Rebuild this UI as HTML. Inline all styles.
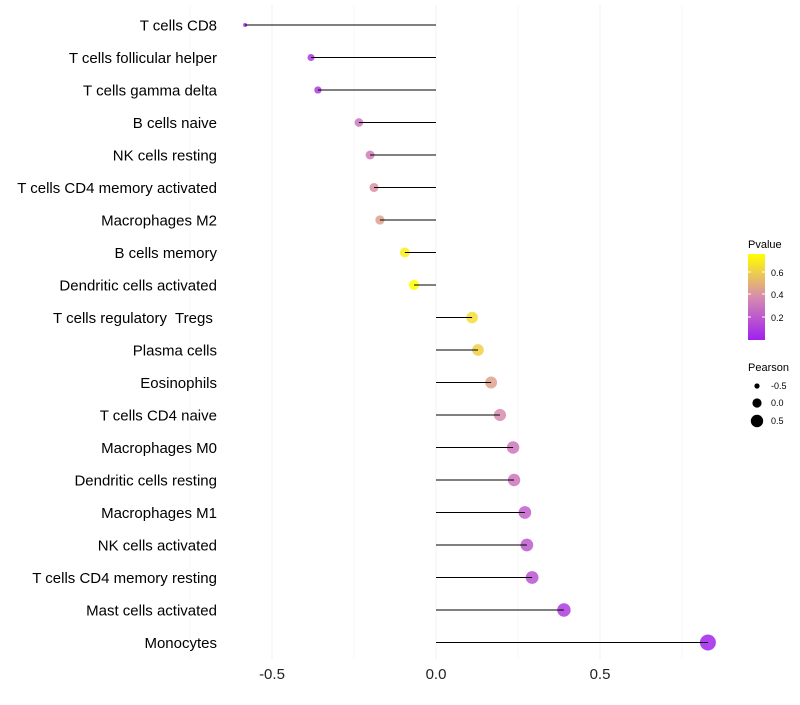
<!DOCTYPE html>
<html><head><meta charset="utf-8"><style>
body{margin:0;background:#fff;font-family:"Liberation Sans",sans-serif}
svg text{font-family:"Liberation Sans",sans-serif;white-space:pre}
</style></head><body>
<svg id="c" width="800" height="700">
<defs><linearGradient id="pg" x1="0" y1="1" x2="0" y2="0">
<stop offset="0" stop-color="#A020F0"/><stop offset="0.5" stop-color="#D68CAE"/><stop offset="1" stop-color="#FFFF00"/></linearGradient></defs>
<g id="grid"></g>
<g id="pts"></g>
<g id="marks"></g>
<g id="labels"></g>
<g id="xt"></g>
<g>
<text x="748" y="248" font-size="11">Pvalue</text>
<rect x="748" y="254" width="17" height="86" fill="url(#pg)"/>
<line x1="748" x2="751" y1="272" y2="272" stroke="#fff"/><line x1="762" x2="765" y1="272" y2="272" stroke="#fff"/>
<line x1="748" x2="751" y1="294" y2="294" stroke="#fff"/><line x1="762" x2="765" y1="294" y2="294" stroke="#fff"/>
<line x1="748" x2="751" y1="317" y2="317" stroke="#fff"/><line x1="762" x2="765" y1="317" y2="317" stroke="#fff"/>
<text x="771" y="276" font-size="9">0.6</text><text x="771" y="298" font-size="9">0.4</text><text x="771" y="321" font-size="9">0.2</text>
</g>
<g>
<text x="748" y="371" font-size="11">Pearson</text>
<circle cx="757" cy="386" r="2.6"/><text x="771" y="389" font-size="9">-0.5</text>
<circle cx="757" cy="403" r="4.6"/><text x="771" y="406" font-size="9">0.0</text>
<circle cx="757" cy="421" r="6.2"/><text x="771" y="424" font-size="9">0.5</text>
</g>
</svg>
<script>
const categories=["T cells CD8","T cells follicular helper","T cells gamma delta","B cells naive","NK cells resting","T cells CD4 memory activated","Macrophages M2","B cells memory","Dendritic cells activated","T cells regulatory  Tregs ","Plasma cells","Eosinophils","T cells CD4 naive","Macrophages M0","Dendritic cells resting","Macrophages M1","NK cells activated","T cells CD4 memory resting","Mast cells activated","Monocytes"];
const pearson=[-0.582,-0.381,-0.36,-0.235,-0.201,-0.189,-0.171,-0.095,-0.067,0.110,0.128,0.168,0.195,0.235,0.238,0.271,0.277,0.293,0.390,0.829];
const pvalue=[0.02,0.08,0.1,0.3,0.33,0.4,0.45,0.7,0.76,0.65,0.6,0.45,0.38,0.3,0.3,0.22,0.2,0.18,0.1,0.01];
const xTicks=[-0.5,0,0.5];
const xTickLabels=["-0.5","0.0","0.5"];
const NS="http://www.w3.org/2000/svg";
const x=v=>436+v*328;
const y=i=>25+i*32.5;
function col(p){const t=Math.max(0,Math.min(1,p/0.76));const a=[160,32,240],m=[214,140,174],b=[255,255,0];
let c;if(t<0.5){const u=t/0.5;c=a.map((v,k)=>v+(m[k]-v)*u);}else{const u=(t-0.5)/0.5;c=m.map((v,k)=>v+(b[k]-v)*u);}
return `rgb(${c.map(Math.round).join(',')})`;}
const rad=v=>Math.sqrt(Math.max(1,4+(v+0.58)*42.5));
function mk(tag,at,parent){const e=document.createElementNS(NS,tag);for(const k in at)e.setAttribute(k,at[k]);document.getElementById(parent).appendChild(e);return e;}
[-0.75,-0.25,0.25,0.75].forEach(v=>{const l=mk('line',{x1:x(v),x2:x(v),y1:5,y2:660,stroke:'#f6f6f6','stroke-width':0.6},'grid');});
xTicks.forEach((v,i)=>{const l=mk('line',{x1:x(v),x2:x(v),y1:5,y2:660,stroke:'#f0f0f0','stroke-width':1},'grid');
const t=mk('text',{x:x(v),y:679,'font-size':15,'text-anchor':'middle',fill:'#222'},'xt');t.textContent=xTickLabels[i];});
categories.forEach((c,i)=>{
const p=mk('circle',{cx:x(pearson[i]),cy:y(i),r:rad(pearson[i]),fill:col(pvalue[i]),'fill-opacity':0.85},'pts');
const s=mk('line',{x1:x(0),x2:x(pearson[i]),y1:y(i),y2:y(i),stroke:'#000','stroke-width':1},'marks');
const t=mk('text',{x:217,y:y(i)+5.5,'font-size':15,'text-anchor':'end',fill:'#000'},'labels');t.textContent=c;
});
</script>
</body></html>
